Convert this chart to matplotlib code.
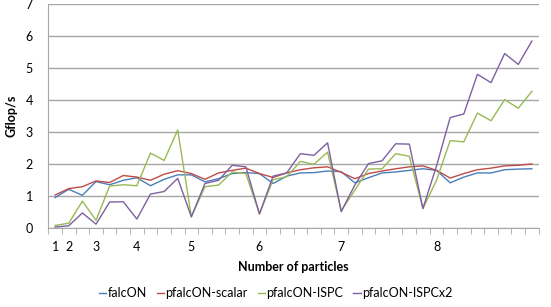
import numpy as np
import matplotlib
matplotlib.use("Agg")
import matplotlib.pyplot as plt

# category labels (36 categories, most unlabeled)
labels = ['1', '2', '', '3', '', '', '4', '', '', '', '5', '', '', '', '', '6',
          '', '', '', '', '', '7', '', '', '', '', '', '', '8', '', '', '', '', '', '', '']

falcon = [0.96, 1.22, 1.03, 1.46, 1.36, 1.50, 1.58, 1.33, 1.53, 1.67, 1.67, 1.45,
          1.55, 1.71, 1.74, 1.71, 1.40, 1.63, 1.73, 1.74, 1.79, 1.77, 1.42, 1.58,
          1.73, 1.76, 1.81, 1.86, 1.81, 1.42, 1.60, 1.73, 1.73, 1.83, 1.85, 1.86]
scalar = [1.04, 1.24, 1.30, 1.48, 1.43, 1.65, 1.60, 1.50, 1.69, 1.80, 1.71, 1.53,
          1.73, 1.81, 1.88, 1.71, 1.59, 1.73, 1.83, 1.89, 1.92, 1.75, 1.55, 1.71,
          1.79, 1.86, 1.92, 1.95, 1.81, 1.57, 1.71, 1.83, 1.88, 1.95, 1.97, 2.01]
ispc = [0.09, 0.16, 0.85, 0.25, 1.32, 1.36, 1.33, 2.35, 2.12, 3.07, 0.36, 1.30,
        1.35, 1.76, 1.71, 0.45, 1.52, 1.61, 2.09, 2.00, 2.38, 0.55, 1.19, 1.85,
        1.86, 2.33, 2.25, 0.62, 1.50, 2.74, 2.70, 3.60, 3.36, 4.02, 3.75, 4.28]
ispcx2 = [0.04, 0.08, 0.48, 0.13, 0.82, 0.83, 0.29, 1.07, 1.15, 1.56, 0.36, 1.40,
          1.50, 1.97, 1.92, 0.45, 1.63, 1.73, 2.33, 2.28, 2.67, 0.52, 1.35, 2.02,
          2.11, 2.64, 2.63, 0.62, 1.95, 3.46, 3.57, 4.81, 4.55, 5.46, 5.12, 5.85]

plt.rcParams['font.family'] = ['Lato', 'DejaVu Sans']

fig = plt.figure(figsize=(5.51, 3.07), dpi=100)
ax = fig.add_axes([0.0877, 0.2563, 0.89, 0.730])

x = np.arange(len(labels))
ax.plot(x, falcon, color='#4A7EBB', lw=1, label='falcON')
ax.plot(x, scalar, color='#BE4B48', lw=1, label='pfalcON-scalar')
ax.plot(x, ispc, color='#98B954', lw=1, label='pfalcON-ISPC')
ax.plot(x, ispcx2, color='#7D60A0', lw=1, label='pfalcON-ISPCx2')

ax.set_xlim(-0.5, len(labels) - 0.5)
ax.set_ylim(0, 7)
ax.set_yticks(range(8))
ax.yaxis.grid(True, color='#A6A6A6', lw=1)
ax.set_axisbelow(True)

ax.set_xticks(x)
ax.set_xticklabels(labels)
ax.set_xticks(np.arange(-0.5, len(labels)), minor=True)
ax.tick_params(axis='x', which='major', length=0, pad=9, labelsize=9)
ax.tick_params(axis='x', which='minor', length=4, color='#A6A6A6', direction='out')
ax.tick_params(axis='y', length=0, pad=11, labelsize=9)

for s in ['top', 'right']:
    ax.spines[s].set_visible(False)
for s in ['left', 'bottom']:
    ax.spines[s].set_color('#A6A6A6')

ax.set_xlabel('Number of particles', fontsize=9, fontweight='bold', labelpad=6)
ax.set_ylabel('Gflop/s', fontsize=9, fontweight='bold', labelpad=6)

fig.legend(loc='center', bbox_to_anchor=(0.5, 1 - 293 / 307), ncol=4, frameon=False,
           fontsize=9, handlelength=0.6, handletextpad=0.1, columnspacing=0.8)

fig.savefig('out.png', dpi=100)
